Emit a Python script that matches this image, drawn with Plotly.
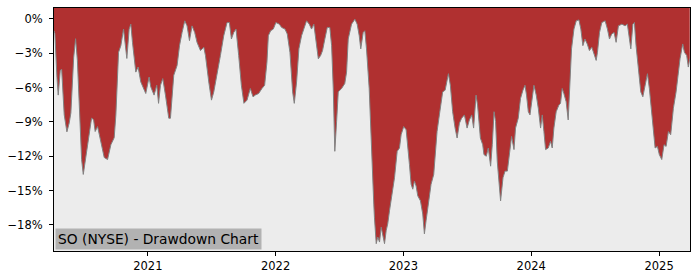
import plotly.graph_objects as go

# Time in fractional years, drawdown in percent
t = [2020.266, 2020.273, 2020.289, 2020.299, 2020.315, 2020.326, 2020.346, 2020.367, 2020.385, 2020.398,
     2020.420, 2020.435, 2020.449, 2020.463, 2020.482, 2020.495, 2020.516, 2020.541, 2020.560, 2020.576,
     2020.588, 2020.607, 2020.633, 2020.659, 2020.685, 2020.711, 2020.737, 2020.750, 2020.771, 2020.789,
     2020.810, 2020.820, 2020.836, 2020.854, 2020.867, 2020.880, 2020.906, 2020.924, 2020.945, 2020.984,
     2021.010, 2021.023, 2021.049, 2021.070, 2021.084, 2021.099, 2021.117, 2021.138, 2021.164, 2021.177,
     2021.203, 2021.229, 2021.248, 2021.268, 2021.289, 2021.307, 2021.326, 2021.346, 2021.367, 2021.385,
     2021.412, 2021.438, 2021.451, 2021.477, 2021.498, 2021.516, 2021.541, 2021.568, 2021.594, 2021.620,
     2021.638, 2021.654, 2021.672, 2021.690, 2021.711, 2021.732, 2021.752, 2021.776, 2021.802, 2021.823,
     2021.841, 2021.867, 2021.893, 2021.914, 2021.932, 2021.943, 2021.961, 2021.982, 2022.002, 2022.029,
     2022.047, 2022.073, 2022.091, 2022.112, 2022.133, 2022.146, 2022.164, 2022.182, 2022.203, 2022.221,
     2022.242, 2022.263, 2022.281, 2022.299, 2022.315, 2022.334, 2022.352, 2022.367, 2022.385, 2022.404,
     2022.424, 2022.438, 2022.451, 2022.463, 2022.477, 2022.490, 2022.516, 2022.541, 2022.555, 2022.568,
     2022.594, 2022.620, 2022.638, 2022.654, 2022.666, 2022.685, 2022.698, 2022.711, 2022.732, 2022.750,
     2022.768, 2022.773, 2022.787, 2022.799, 2022.813, 2022.826, 2022.838, 2022.852, 2022.865, 2022.877,
     2022.891, 2022.909, 2022.930, 2022.951, 2022.969, 2022.982, 2023.002, 2023.021, 2023.034, 2023.047,
     2023.060, 2023.073, 2023.086, 2023.099, 2023.112, 2023.133, 2023.151, 2023.164, 2023.177, 2023.195,
     2023.216, 2023.237, 2023.248, 2023.263, 2023.281, 2023.307, 2023.326, 2023.341, 2023.352, 2023.367,
     2023.385, 2023.404, 2023.420, 2023.438, 2023.455, 2023.477, 2023.498, 2023.516, 2023.534, 2023.549,
     2023.568, 2023.580, 2023.602, 2023.620, 2023.630, 2023.648, 2023.664, 2023.682, 2023.695, 2023.709,
     2023.721, 2023.734, 2023.748, 2023.760, 2023.779, 2023.795, 2023.813, 2023.830, 2023.846, 2023.865,
     2023.877, 2023.898, 2023.916, 2023.935, 2023.951, 2023.963, 2023.977, 2023.990, 2024.008, 2024.021,
     2024.039, 2024.055, 2024.073, 2024.086, 2024.099, 2024.112, 2024.133, 2024.151, 2024.164, 2024.177,
     2024.195, 2024.216, 2024.229, 2024.242, 2024.255, 2024.273, 2024.289, 2024.302, 2024.315, 2024.334,
     2024.352, 2024.373, 2024.388, 2024.404, 2024.420, 2024.438, 2024.455, 2024.474, 2024.492, 2024.508,
     2024.518, 2024.534, 2024.552, 2024.578, 2024.596, 2024.612, 2024.630, 2024.648, 2024.664, 2024.682,
     2024.709, 2024.734, 2024.752, 2024.768, 2024.779, 2024.795, 2024.807, 2024.820, 2024.838, 2024.857,
     2024.873, 2024.891, 2024.909, 2024.924, 2024.943, 2024.955, 2024.969, 2024.987, 2025.002, 2025.021,
     2025.039, 2025.055, 2025.073, 2025.091, 2025.112, 2025.133, 2025.151, 2025.164, 2025.185, 2025.198,
     2025.216, 2025.229, 2025.240]

drawdown = [-1.04, -1.30, -5.11, -6.66, -4.50, -4.41, -8.39, -9.87, -9.09, -8.22,
            -3.37, -1.73, -3.63, -7.10, -12.29, -13.59, -12.11, -10.38, -8.65, -8.83,
            -9.84, -9.41, -10.70, -12.11, -12.29, -10.99, -10.38, -8.39, -2.92, -2.34,
            -0.89, -2.16, -3.46, -0.89, -0.46, -2.05, -4.65, -4.21, -5.51, -6.52,
            -5.08, -5.94, -6.66, -5.80, -7.38, -5.80, -5.22, -6.66, -8.68, -8.68,
            -4.93, -4.07, -2.34, -1.19, -0.17, -0.61, -1.90, -0.61, -1.19, -2.05,
            -2.77, -2.48, -3.20, -5.51, -7.10, -6.38, -4.93, -3.20, -1.47, -0.32,
            -0.32, -1.76, -1.19, -0.89, -3.20, -5.80, -7.38, -7.10, -6.08, -6.81,
            -6.66, -6.52, -6.08, -5.80, -3.78, -1.47, -1.04, -0.89, -0.32, -0.46,
            -0.75, -0.89, -1.32, -2.92, -6.38, -7.38, -5.51, -2.62, -1.47, -0.89,
            -0.17, -0.46, -0.89, -0.46, -2.05, -3.49, -3.20, -2.77, -1.76, -0.75,
            -0.75, -2.34, -6.08, -11.57, -8.97, -6.38, -6.08, -5.65, -4.65, -1.76,
            -0.46, -0.03, -0.46, -1.47, -2.62, -1.19, -1.04, -2.62, -6.08, -11.86,
            -16.18, -17.33, -19.64, -19.06, -19.50, -18.20, -18.78, -19.64, -18.49, -17.91,
            -16.76, -15.32, -13.87, -11.57, -11.28, -10.12, -9.41, -9.69, -10.99, -12.72,
            -14.45, -14.88, -14.17, -14.60, -15.46, -15.90, -17.05, -18.78, -17.63, -16.18,
            -14.45, -13.59, -12.14, -9.84, -8.39, -6.38, -6.23, -5.51, -4.79, -5.80,
            -8.11, -9.54, -10.41, -9.11, -8.68, -8.39, -9.54, -8.83, -8.39, -9.54,
            -6.66, -7.53, -10.41, -10.99, -11.86, -12.00, -11.28, -12.87, -10.99, -8.11,
            -8.97, -12.44, -14.74, -15.90, -13.87, -13.30, -13.30, -11.86, -10.27, -11.42,
            -9.54, -8.68, -6.95, -6.23, -5.80, -6.66, -8.11, -8.39, -6.66, -5.80,
            -6.66, -7.81, -9.54, -8.39, -9.84, -11.42, -11.28, -10.70, -11.28, -9.54,
            -8.11, -7.53, -7.38, -6.08, -6.52, -7.24, -8.83, -5.80, -2.62, -0.89,
            -0.17, -0.09, -0.89, -2.34, -1.76, -2.19, -2.77, -2.48, -3.20, -3.63,
            -2.92, -1.19, -0.32, -0.17, -0.89, -1.76, -1.32, -1.19, -2.05, -0.61,
            -0.46, -0.61, -0.46, -1.76, -2.62, -0.46, -0.32, -2.34, -4.65, -6.38,
            -6.81, -5.80, -4.79, -6.08, -8.39, -10.12, -11.28, -11.14, -11.86, -12.29,
            -10.99, -11.14, -9.84, -10.12, -7.81, -6.38, -4.65, -3.49, -2.19, -2.92,
            -3.20, -4.21, -3.49]

y_ticks = [0, -3, -6, -9, -12, -15, -18]
y_tick_labels = ["0%", "\u22123%", "\u22126%", "\u22129%", "\u221212%", "\u221215%", "\u221218%"]
x_ticks = [2021, 2022, 2023, 2024, 2025]
x_tick_labels = ["2021", "2022", "2023", "2024", "2025"]

Y_RANGE = [-20.28, 0.95]
X_RANGE = [2020.266, 2025.242]

RED = "rgb(176,48,48)"
BG = "rgb(236,236,236)"

fig = go.Figure()
# upper boundary of the red area (top of the plot)
fig.add_trace(go.Scatter(x=[t[0], t[-1]], y=[Y_RANGE[1], Y_RANGE[1]], mode="lines",
                         line=dict(width=0, color=RED), hoverinfo="skip", showlegend=False))
fig.add_trace(go.Scatter(x=t, y=drawdown, mode="lines", fill="tonexty", fillcolor=RED,
                         line=dict(color="rgb(130,130,130)", width=1), showlegend=False))

axis_common = dict(showline=True, linecolor="black", linewidth=1, mirror=True,
                   showgrid=False, zeroline=False, ticks="outside", ticklen=4,
                   tickcolor="black", tickwidth=1,
                   tickfont=dict(family="DejaVu Sans", size=11.5, color="black"))

fig.update_xaxes(range=X_RANGE, tickvals=x_ticks, ticktext=x_tick_labels, **axis_common)
fig.update_yaxes(range=Y_RANGE, tickvals=y_ticks, ticktext=y_tick_labels,
                 ticklabelstandoff=4, **axis_common)

fig.add_annotation(text="SO (NYSE) - Drawdown Chart", xref="paper", yref="paper",
                   x=0, y=0, xanchor="left", yanchor="bottom", showarrow=False,
                   xshift=1, yshift=1,
                   font=dict(family="DejaVu Sans", size=13.8, color="black"),
                   bgcolor="rgb(178,178,178)", borderpad=2)

fig.update_layout(width=700, height=280, margin=dict(l=53, r=10, t=7, b=28),
                  plot_bgcolor=BG, paper_bgcolor="white", showlegend=False)

fig.write_html("out.html")
